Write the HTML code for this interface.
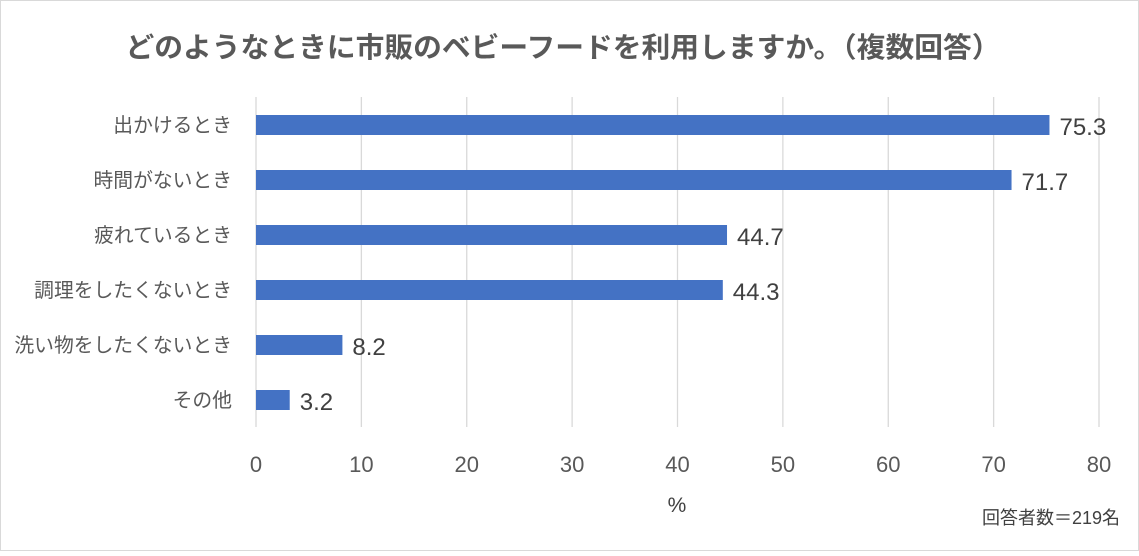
<!DOCTYPE html>
<html><head><meta charset="utf-8"><style>
body{margin:0;background:#fff;}
svg text{font-family:"Liberation Sans","Noto Sans CJK JP",sans-serif;}
</style></head><body>
<svg id="c" width="1139" height="551" xmlns="http://www.w3.org/2000/svg">
<rect x="0.5" y="0.5" width="1138" height="550" fill="#fff" stroke="#d9d9d9"/>
<text x="563" y="57" text-anchor="middle" font-size="28" font-weight="bold" fill="#595959" textLength="875" lengthAdjust="spacingAndGlyphs">どのようなときに市販のベビーフードを利用しますか。（複数回答）</text>
<g id="grid"></g><g id="bars"></g>
<text x="677" y="512" text-anchor="middle" font-size="21" fill="#404040">%</text>
<text x="1120" y="524" text-anchor="end" font-size="18" fill="#404040">回答者数＝219名</text>
</svg>
<script>
const categories=["出かけるとき","時間がないとき","疲れているとき","調理をしたくないとき","洗い物をしたくないとき","その他"];
const values=[75.3,71.7,44.7,44.3,8.2,3.2];
const ticks=[0,10,20,30,40,50,60,70,80];
const NS="http://www.w3.org/2000/svg";
const x=v=>256+v*(1099-256)/80;
const y=i=>125+i*55;
function mk(t,a,p,txt){const e=document.createElementNS(NS,t);for(const k in a)e.setAttribute(k,a[k]);if(txt!=null)e.textContent=txt;p.appendChild(e);return e;}
const g=document.getElementById('grid'),b=document.getElementById('bars');
ticks.forEach(t=>{
 const l=mk('line',{x1:x(t),x2:x(t),y1:97,y2:427,stroke:'#d9d9d9','stroke-width':1.3},g);
 
 
 const tx=mk('text',{x:x(t),y:472,'text-anchor':'middle','font-size':22,fill:'#595959'},g,String(t));
 
 
});
categories.forEach((c,i)=>{
 const r=mk('rect',{x:x(0),y:y(i)-10,width:x(values[i])-x(0),height:20,fill:'#4472C4'},b);
 
 
 const lb=mk('text',{x:232,y:y(i)+7,'text-anchor':'end','font-size':19.8,fill:'#595959'},b,c);
 
 
 const vl=mk('text',{x:x(values[i])+10,y:y(i)+10,'font-size':24,fill:'#404040'},b,values[i].toFixed(1));
 
 
});
</script>
</body></html>
